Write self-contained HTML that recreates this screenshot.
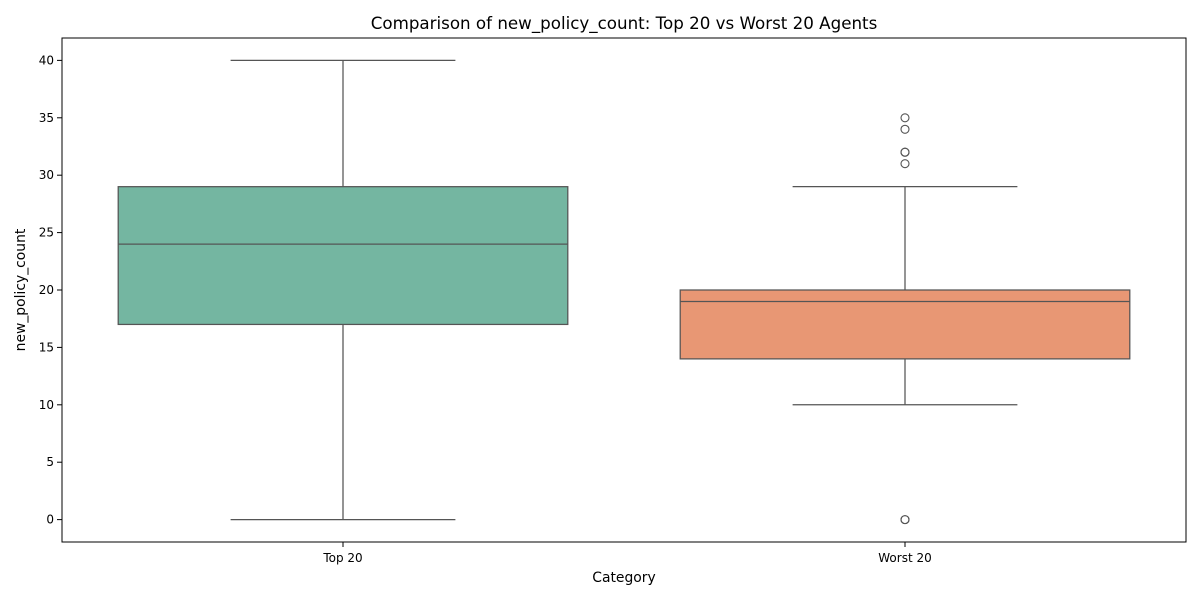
<!DOCTYPE html>
<html><head><meta charset="utf-8"><style>
body{margin:0;background:#fff;}
svg{font-family:"DejaVu Sans","Liberation Sans",sans-serif;}
</style></head><body>
<svg id="chart" width="1200" height="600" xmlns="http://www.w3.org/2000/svg"></svg>
<script>
const categories = ["Top 20", "Worst 20"];
const whiskerLow = [0, 10];
const q1 = [17, 14];
const medians = [24, 19];
const q3 = [29, 20];
const whiskerHigh = [40, 29];
const outliers = [[], [35, 34, 32, 32, 31, 0, 0]];
const colors = ["#74b6a1", "#e89774"];
const yTicks = [0, 5, 10, 15, 20, 25, 30, 35, 40];

const NS = "http://www.w3.org/2000/svg";
const svg = document.getElementById("chart");
const L = 62, R = 1186, T = 38, B = 542;
const yMin = -1.95, yMax = 41.95;
function y(v){ return B - (v - yMin) / (yMax - yMin) * (B - T); }
const band = (R - L) / categories.length;
function xc(i){ return L + band * (i + 0.5); }
function mk(tag, attrs, parent){
  const e = document.createElementNS(NS, tag);
  for (const k in attrs) e.setAttribute(k, attrs[k]);
  (parent || svg).appendChild(e);
  return e;
}
function txt(s, attrs){ const e = mk("text", attrs); e.textContent = s; return e; }

const t = txt("Comparison of new_policy_count: Top 20 vs Worst 20 Agents", {x:(L+R)/2, y:29, "text-anchor":"middle", "font-size":16.7, fill:"#000"});



categories.forEach((c, i) => {
  const g = mk("g", {});
  
  
  const cx = xc(i), bw = band * 0.8, cw = bw / 2;
  const st = {stroke:"#555", "stroke-width":1.25, fill:"none"};
  mk("line", Object.assign({x1:cx, x2:cx, y1:y(q1[i]), y2:y(whiskerLow[i])}, st), g);
  mk("line", Object.assign({x1:cx, x2:cx, y1:y(q3[i]), y2:y(whiskerHigh[i])}, st), g);
  mk("line", Object.assign({x1:cx-cw/2, x2:cx+cw/2, y1:y(whiskerLow[i]), y2:y(whiskerLow[i])}, st), g);
  mk("line", Object.assign({x1:cx-cw/2, x2:cx+cw/2, y1:y(whiskerHigh[i]), y2:y(whiskerHigh[i])}, st), g);
  mk("rect", {x:cx-bw/2, y:y(q3[i]), width:bw, height:y(q1[i])-y(q3[i]), fill:colors[i], stroke:"#555", "stroke-width":1.25}, g);
  mk("line", Object.assign({x1:cx-bw/2, x2:cx+bw/2, y1:y(medians[i]), y2:y(medians[i])}, st), g);
  outliers[i].forEach(v => {
    const o = mk("circle", {cx:cx, cy:y(v), r:4, fill:"none", stroke:"#555", "stroke-width":1.1}, g);
    
    
  });
  mk("line", {x1:cx, x2:cx, y1:B, y2:B+5, stroke:"#000", "stroke-width":1});
  const lb = txt(c, {x:cx, y:B+20, "text-anchor":"middle", "font-size":12, fill:"#000"});
  
  
});

yTicks.forEach(v => {
  mk("line", {x1:L-5, x2:L, y1:y(v), y2:y(v), stroke:"#000", "stroke-width":1});
  const lb = txt(String(v), {x:L-8, y:y(v)+4, "text-anchor":"end", "font-size":12, fill:"#000"});
  
  
});

const frame = mk("rect", {x:L, y:T, width:R-L, height:B-T, fill:"none", stroke:"#000", "stroke-width":1});



const xt = txt("Category", {x:(L+R)/2, y:582, "text-anchor":"middle", "font-size":13.9, fill:"#000"});


const yt = txt("new_policy_count", {x:0, y:0, "text-anchor":"middle", "font-size":13.9, fill:"#000", transform:"translate(25,"+((T+B)/2)+") rotate(-90)"});


</script>
</body></html>
